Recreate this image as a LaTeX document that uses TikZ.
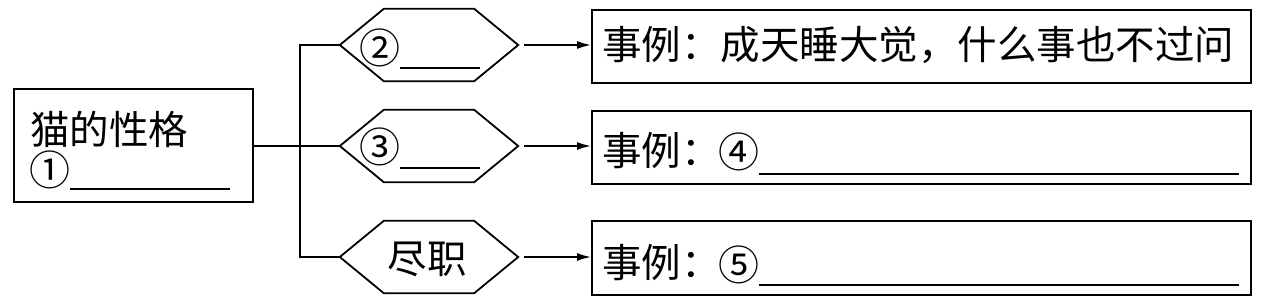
\documentclass[tikz,border=0pt]{standalone}
\usepackage{fontspec}
\newfontfamily\cjk{Noto Sans CJK SC}
\usetikzlibrary{arrows.meta}
\begin{document}
\begin{tikzpicture}[x=1pt,y=-1pt,line join=miter,
  frame/.style={draw,line width=2pt,inner sep=0pt,rectangle},
  conn/.style={line width=1.8pt},
  arr/.style={line width=1.6pt,-{Latex[length=14pt,width=8pt]}},
  blank/.style={line width=1.5pt},
  txt/.style={inner sep=0pt,anchor=west,font=\cjk\fontsize{39.5}{44}\selectfont},
  num/.style={inner sep=0pt,font=\cjk\fontsize{41}{46}\selectfont},
  hexa/.style={inner sep=0pt,minimum width=178pt,minimum height=72pt}]
\useasboundingbox (0,0) rectangle (1261,301);
\newcommand{\hexdraw}[1]{\draw[conn] (#1.west) -- ([xshift=44pt]#1.north west) -- ([xshift=-44pt]#1.north east) -- (#1.east) -- ([xshift=-44pt]#1.south east) -- ([xshift=44pt]#1.south west) -- cycle;}
% left box
\node[frame,minimum width=239pt,minimum height=113pt] (L) at (133.5,145.5) {};
\node[txt] (Lt) at (30,129) {猫的性格};
\node[num] (Lc) at (50,170) {①};
\draw[blank] (70,189) -- (230,189);
% hexagons
\node[hexa] (h1) at (429,45) {};
\node[hexa] (h2) at (429,146) {};
\node[hexa] (h3) at (429,257) {};
\hexdraw{h1}\hexdraw{h2}\hexdraw{h3}
\node[num] (h1n) at (380,48) {②};
\draw[blank] (400,68) -- (480,68);
\node[num] (h2n) at (380,147) {③};
\draw[blank] (400,168) -- (480,168);
\node[txt,anchor=center] (h3t) at (427,259) {尽职};
% bracket
\draw[conn] (L.east |- h2.west) -- (h2.west);
\draw[conn] (h1.west) -- ++(-40,0) |- (h3.west);
% right boxes
\node[frame,minimum width=659pt,minimum height=73pt] (b1) at (921.5,46.5) {};
\node[frame,minimum width=659pt,minimum height=73pt] (b2) at (921.5,147.5) {};
\node[frame,minimum width=659pt,minimum height=74pt] (b3) at (921.5,258) {};
\node[txt] (b1t) at (602,45.5) {事例：成天睡大觉，什么事也不过问};
\node[txt] (b2t) at (602,151) {事例：};
\node[num] (b2n) at (739,152) {④};
\draw[blank] (759,174) -- (1239,174);
\node[txt] (b3t) at (602,263) {事例：};
\node[num] (b3n) at (739,265) {⑤};
\draw[blank] (759,285) -- (1239,285);
% arrows
\draw[arr] ([xshift=6pt]h1.east) -- (h1.east -| b1.west);
\draw[arr] ([xshift=6pt]h2.east) -- (h2.east -| b2.west);
\draw[arr] ([xshift=6pt]h3.east) -- (h3.east -| b3.west);
\end{tikzpicture}
\end{document}
